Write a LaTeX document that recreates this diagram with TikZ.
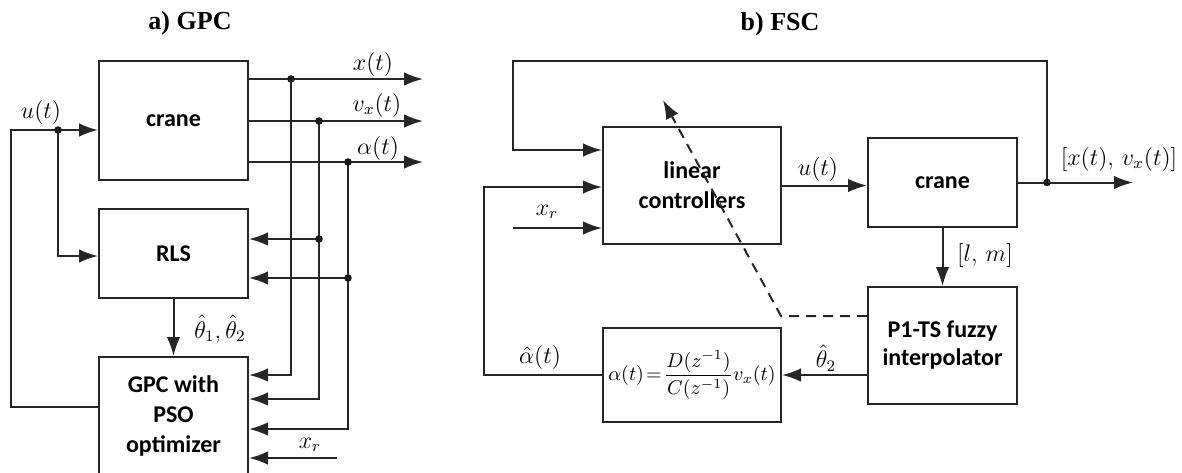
\documentclass[tikz,border=0pt]{standalone}
\usepackage{amsmath}
\usepackage{fontspec}
\setmainfont{Liberation Serif}
\newfontfamily\boxfont{Carlito}
\usetikzlibrary{arrows.meta,calc}
\begin{document}
\begin{tikzpicture}[x=0.5pt,y=-0.5pt,
  wire/.style={draw=black!85, line width=1pt},
  arr/.style={wire, -{Latex[length=9.5pt,width=6.8pt]}},
  blk/.style={draw=black!85, line width=1pt, align=center, inner sep=0pt,
    font=\boxfont\bfseries\fontsize{12}{15}\selectfont},
  lbl/.style={inner sep=0pt, font=\fontsize{12}{14}\selectfont},
  ttl/.style={inner sep=0pt, font=\bfseries\fontsize{13}{15}\selectfont},
  jdot/.style={circle, fill=black!90, inner sep=0pt, minimum size=3.8pt}]
\useasboundingbox (0,0) rectangle (1182,472);
\clip (0,0) rectangle (1182,472);

% ---------------- a) GPC ----------------
\node[ttl] (ta) at (190,23) {a) GPC};
\node[blk, minimum width=74.5pt, minimum height=59.5pt] (crane1) at (173.5,120.5) {crane};
\node[blk, minimum width=74.5pt, minimum height=44.5pt] (rls) at (173.5,253.5) {RLS};
\node[blk, minimum width=74.5pt, minimum height=59pt] (gpc) at (173.5,416) {GPC with\\PSO\\optimizer};

\coordinate (x1) at (423,79);
\coordinate (v1) at (423,121);
\coordinate (a1) at (423,162);
\coordinate (p1) at (291,79);
\coordinate (p2) at (319,121);
\coordinate (p3) at (348,162);
\coordinate (p4) at (319,239);
\coordinate (p5) at (348,278);
\coordinate (pu) at (58,130);
\coordinate (g1) at (291,375);
\coordinate (g2) at (319,399);
\coordinate (g3) at (348,429);
\coordinate (g4) at (337,458);
\coordinate (lb) at (11,407);
\coordinate (lt) at (11,130);
\coordinate (ru) at (58,256);

\draw[arr] (crane1.east |- x1) -- (x1);
\draw[arr] (crane1.east |- v1) -- (v1);
\draw[arr] (crane1.east |- a1) -- (a1);
\draw[arr] (p1) -- (g1) -- (gpc.east |- g1);
\draw[arr] (p2) -- (g2) -- (gpc.east |- g2);
\draw[arr] (p3) -- (g3) -- (gpc.east |- g3);
\draw[arr] (g4) -- (gpc.east |- g4);
\draw[arr] (p4) -- (rls.east |- p4);
\draw[arr] (p5) -- (rls.east |- p5);
\draw[arr] (gpc.west |- lb) -- (lb) -- (lt) -- (crane1.west |- lt);
\draw[arr] (pu) -- (ru) -- (rls.west |- ru);
\draw[arr] (rls.south) -- (gpc.north);

\node[jdot] (d1) at (p1) {};
\node[jdot] (d2) at (p2) {};
\node[jdot] (d3) at (p3) {};
\node[jdot] (d4) at (p4) {};
\node[jdot] (d5) at (p5) {};
\node[jdot] (du) at (pu) {};

\node[lbl] (lx) at (373,64) {$x(t)$};
\node[lbl] (lv) at (377,105) {$v_x(t)$};
\node[lbl] (la) at (378,148) {$\alpha(t)$};
\node[lbl] (lu) at (41,112) {$u(t)$};
\node[lbl] (lth) at (220,329) {$\hat\theta_1,\hat\theta_2$};
\node[lbl] (lxr) at (310,445) {$x_r$};

% ---------------- b) FSC ----------------
\node[ttl] (tb) at (780,24) {b) FSC};
\node[blk, minimum width=89pt, minimum height=58.5pt] (lc) at (692,185.5) {linear\\controllers};
\node[blk, minimum width=74.5pt, minimum height=44.5pt] (crane2) at (942.5,182.5) {crane};
\node[blk, minimum width=74.5pt, minimum height=58.5pt,
  font=\boxfont\bfseries\fontsize{12}{14}\selectfont] (fuzzy) at (942.5,345.5) {P1-TS fuzzy\\interpolator};
\node[blk, minimum width=89pt, minimum height=47pt,
  font=\fontsize{10}{12}\selectfont] (formula) at (692,375)
  {$\alpha(t)\!=\!\dfrac{D(z^{-1})}{C(z^{-1})}v_x(t)$};

\coordinate (o2) at (1133,182.5);
\coordinate (pt) at (1047,182.5);
\coordinate (tr) at (1047,61);
\coordinate (tl) at (513,61);
\coordinate (tl2) at (513,150);
\coordinate (al) at (484,375);
\coordinate (al2) at (484,187);
\coordinate (xr2) at (513,228);
\coordinate (dc) at (781,316);
\coordinate (dtip) at (663,100);

\draw[arr] (crane2.east) -- (o2);
\draw[arr] (pt) -- (tr) -- (tl) -- (tl2) -- (lc.west |- tl2);
\draw[arr] (formula.west) -- (al) -- (al2) -- (lc.west |- al2);
\draw[arr] (xr2) -- (lc.west |- xr2);
\draw[arr] (lc.east) -- (lc.east -| crane2.west);
\draw[arr] (crane2.south) -- (fuzzy.north);
\draw[arr] (fuzzy.west |- formula.east) -- (formula.east);
\draw[arr, dash pattern=on 5pt off 3.5pt] (fuzzy.west |- dc) -- (dc) -- (dtip);

\node[jdot] (dt) at (pt) {};

\node[lbl] (lu2) at (818,169) {$u(t)$};
\node[lbl] (lxv) at (1119,159) {$[x(t),\,v_x(t)]$};
\node[lbl] (llm) at (985,255) {$[l,\,m]$};
\node[lbl] (lth2) at (826,358) {$\hat\theta_2$};
\node[lbl] (lah) at (540,357) {$\hat\alpha(t)$};
\node[lbl] (lxr2) at (547,212) {$x_r$};
\end{tikzpicture}
\end{document}
